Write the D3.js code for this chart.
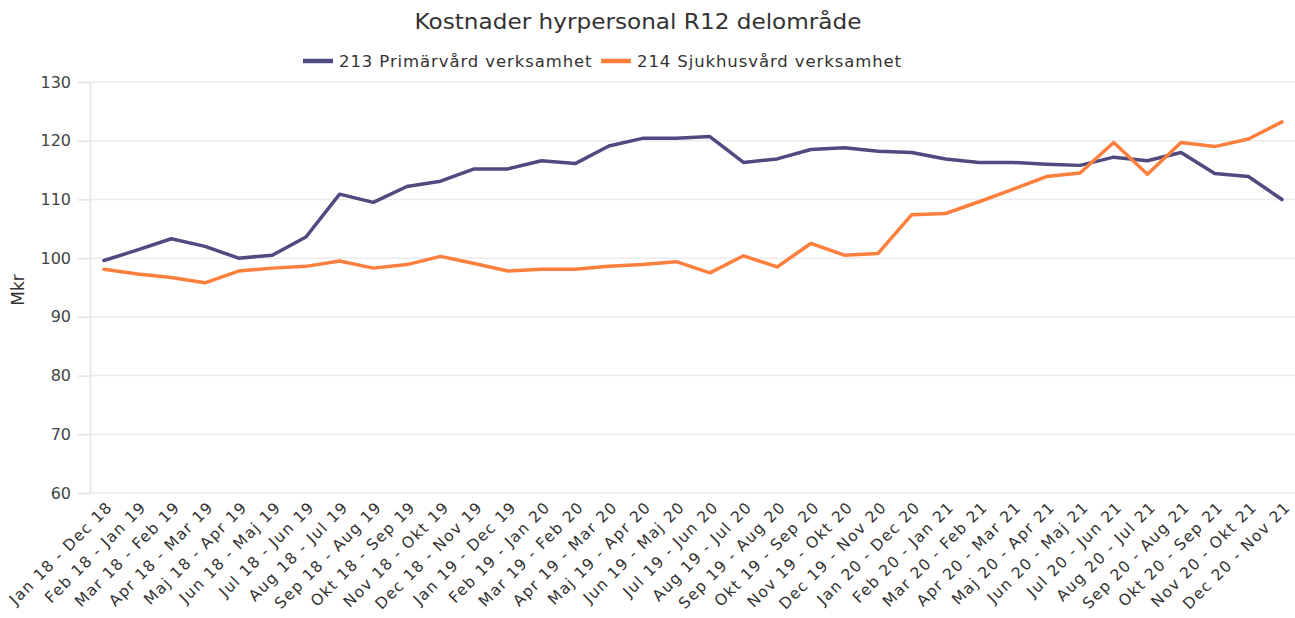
<!DOCTYPE html>
<html><head><meta charset="utf-8">
<script src="https://cdn.jsdelivr.net/npm/d3@7"></script>
<style>
html,body{margin:0;padding:0;background:#fff;}
svg{display:block;font-family:"DejaVu Sans",Verdana,sans-serif;}
</style></head>
<body>
<svg id="chart" width="1295" height="618"></svg>
<script>
const categories = ["Jan 18 - Dec 18","Feb 18 - Jan 19","Mar 18 - Feb 19","Apr 18 - Mar 19","Maj 18 - Apr 19","Jun 18 - Maj 19","Jul 18 - Jun 19","Aug 18 - Jul 19","Sep 18 - Aug 19","Okt 18 - Sep 19","Nov 18 - Okt 19","Dec 18 - Nov 19","Jan 19 - Dec 19","Feb 19 - Jan 20","Mar 19 - Feb 20","Apr 19 - Mar 20","Maj 19 - Apr 20","Jun 19 - Maj 20","Jul 19 - Jun 20","Aug 19 - Jul 20","Sep 19 - Aug 20","Okt 19 - Sep 20","Nov 19 - Okt 20","Dec 19 - Nov 20","Jan 20 - Dec 20","Feb 20 - Jan 21","Mar 20 - Feb 21","Apr 20 - Mar 21","Maj 20 - Apr 21","Jun 20 - Maj 21","Jul 20 - Jun 21","Aug 20 - Jul 21","Sep 20 - Aug 21","Okt 20 - Sep 21","Nov 20 - Okt 21","Dec 20 - Nov 21"];
const primarvard = [99.6,101.4,103.3,102.0,100.0,100.5,103.6,110.9,109.5,112.2,113.1,115.2,115.2,116.6,116.1,119.1,120.4,120.4,120.7,116.3,116.9,118.5,118.8,118.2,118.0,116.9,116.3,116.3,116.0,115.8,117.2,116.6,118.0,114.4,113.9,110.0];
const sjukhusvard = [98.1,97.3,96.7,95.8,97.8,98.3,98.6,99.5,98.3,98.9,100.3,99.1,97.8,98.1,98.1,98.6,98.9,99.4,97.5,100.4,98.5,102.5,100.5,100.8,107.4,107.6,109.6,111.7,113.9,114.5,119.7,114.3,119.7,119.0,120.3,123.2];
const seriesNames = ["213 Primärvård verksamhet","214 Sjukhusvård verksamhet"];
const yTicks = [60,70,80,90,100,110,120,130];
const colors = ["#4f4b81","#fd7f3d"];

const svg = d3.select("#chart");
const x = d3.scalePoint().domain(categories).range([104,1282]);
const y = d3.scaleLinear().domain([60,130]).range([493,82]);

// gridlines + y axis
const yAxis = d3.axisLeft(y).tickValues(yTicks).tickSize(12).tickPadding(7);
const gy = svg.append("g").attr("transform","translate(90,0)").call(yAxis);
gy.select(".domain").attr("stroke","#e3e3e3").attr("stroke-width",1.5);
gy.selectAll(".tick line").attr("stroke","#e3e3e3").attr("stroke-width",1.5);
gy.selectAll(".tick text").attr("fill","#444").style("font-size","16px").style("font-family","DejaVu Sans");
svg.append("g").selectAll("line").data(yTicks).join("line")
  .attr("x1",90).attr("x2",1295)
  .attr("y1",d=>y(d)).attr("y2",d=>y(d))
  .attr("stroke","#ebebeb").attr("stroke-width",1.5);

// x axis labels
const xAxis = d3.axisBottom(x).tickSize(0).tickPadding(0);
const gx = svg.append("g").attr("transform","translate(0,493)").call(xAxis);
gx.select(".domain").remove();
gx.selectAll(".tick text")
  .attr("transform","translate(9,15) rotate(-45)")
  .attr("text-anchor","end").attr("dy","0")
  .attr("fill","#333")
  .style("font-size","15.5px").style("letter-spacing","1.3px").style("font-family","DejaVu Sans");

// lines
const line = d3.line().x((d,i)=>x(categories[i])).y(d=>y(d));
[primarvard, sjukhusvard].forEach((s,k)=>{
  svg.append("path").datum(s).attr("d",line)
    .attr("fill","none").attr("stroke",colors[k]).attr("stroke-width",3.5)
    .attr("stroke-linejoin","round").attr("stroke-linecap","round");
});

// title
svg.append("text").attr("x",638).attr("y",29).attr("text-anchor","middle")
  .attr("fill","#333").style("font-size","21px").style("font-family","DejaVu Sans")
  .attr("textLength",447).attr("lengthAdjust","spacingAndGlyphs")
  .text("Kostnader hyrpersonal R12 delområde");

// legend
const legX = [303, 601];
seriesNames.forEach((n,k)=>{
  svg.append("line").attr("x1",legX[k]).attr("x2",legX[k]+30).attr("y1",61).attr("y2",61)
    .attr("stroke",colors[k]).attr("stroke-width",4.5);
  svg.append("text").attr("x",legX[k]+36).attr("y",67).attr("fill","#333")
    .style("font-size","16.5px").style("letter-spacing","0.9px").style("font-family","DejaVu Sans")
    .text(n);
});

// y axis title
svg.append("text").attr("transform","translate(24,290) rotate(-90)").attr("text-anchor","middle")
  .attr("fill","#333").style("font-size","17px").style("font-family","DejaVu Sans").text("Mkr");
</script>
</body></html>
